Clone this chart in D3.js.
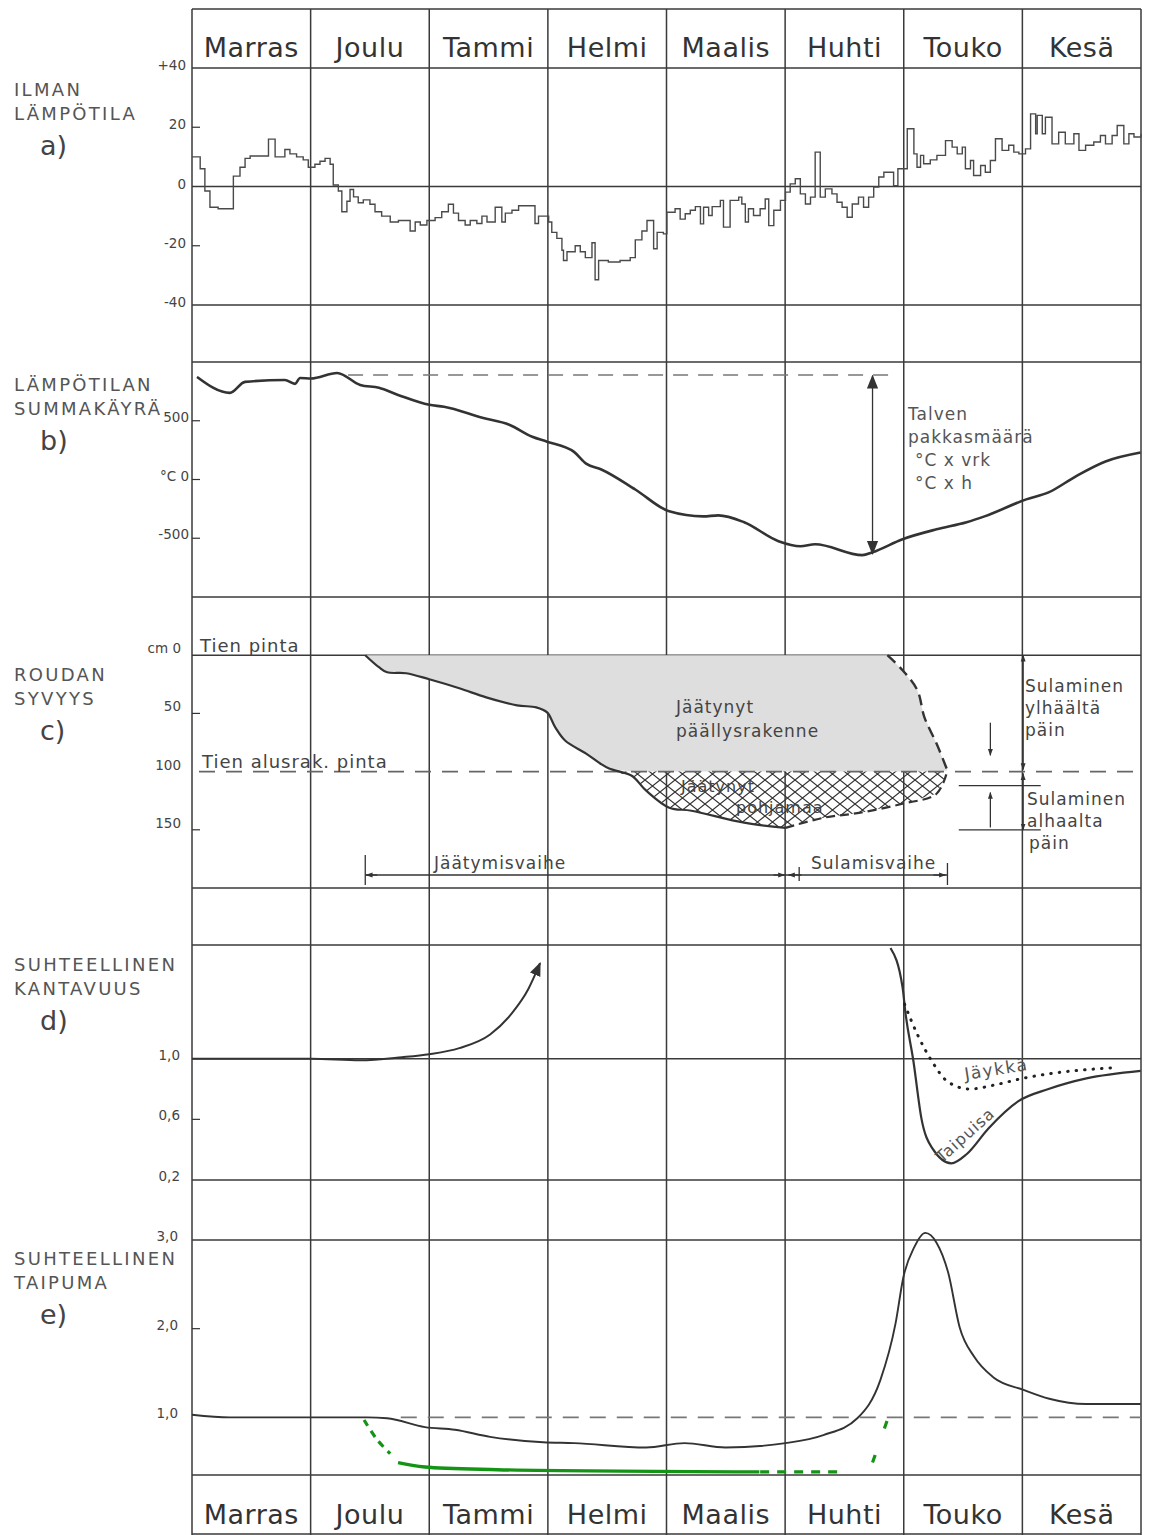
<!DOCTYPE html>
<html>
<head>
<meta charset="utf-8">
<script src="https://cdn.jsdelivr.net/npm/d3@7"></script>
<style>
  body { margin: 0; background: #fff; }
  text { font-family: "DejaVu Sans", sans-serif; fill: #3c3c3c; }
</style>
</head>
<body>
<script>
/* ---------- data (x = days from 1 Nov) ---------- */
const months = ['Marras', 'Joulu', 'Tammi', 'Helmi', 'Maalis', 'Huhti', 'Touko', 'Kesä'];
const DAYS = 243.2;

// a) air temperature, daily steps [day, °C]
const airTemp = [[0,10],[2.1,6],[3.3,-1.5],[4.6,-7],[6.7,-7.5],[10.6,3.5],[12.3,6.5],[13.6,9.5],[14.9,10.3],
  [19.6,16],[21.3,10],[23.8,12.5],[25.1,11],[26.8,10],[28.5,9],[29.8,6.5],[31.5,7.5],[32.8,8.5],[34.1,9.5],
  [35.4,7.5],[36.2,0.5],[37.5,-1.5],[38.4,-8.5],[39.7,-5],[40.5,-1],[41.4,-3.5],[42.6,-5.5],[43.9,-4.5],
  [45.6,-6],[46.9,-8.5],[48.6,-10],[50.8,-12],[52.9,-11.5],[55.9,-15],[57.2,-12],[58.5,-13],[60.2,-11.5],
  [62.3,-10.5],[64,-8.5],[65.7,-6],[67,-9],[68.3,-11.5],[70,-13],[71.3,-11.5],[73,-12.5],[74.3,-10],
  [75.6,-12],[77.7,-7],[79.4,-12],[80.3,-9],[82,-8],[83.7,-6.5],[87.9,-12.5],[88.8,-10],[91.4,-12],
  [92.2,-15.5],[93.5,-17.5],[94.8,-21.5],[95.2,-25],[96.1,-22],[98.2,-20],[99.5,-22],[100.8,-24],
  [102.5,-19],[103.3,-31.5],[104.2,-25],[106.7,-25.5],[109.7,-25],[112.3,-24],[113.6,-18],[115.3,-15],
  [116.6,-11.5],[118.3,-21],[119.2,-15.5],[120.8,-16],[121.7,-8.7],[123.8,-7.5],[125.1,-11],[126.4,-9.2],
  [127.7,-8],[129,-6.8],[130.3,-12.6],[131.1,-7],[132.4,-9.8],[133.3,-6.8],[135.4,-4.7],[136.2,-13.7],
  [137.9,-4.7],[140.1,-3.6],[140.9,-5.9],[141.8,-12],[142.6,-7.5],[143.9,-9.8],[145.6,-7.5],[146.9,-4.2],
  [147.8,-13.2],[149.1,-8],[150.8,-4.7],[152.1,-1.9],[153.3,0.9],[154.6,2.6],[155.9,-2.5],[157.2,-5.9],
  [158.5,-3.6],[159.7,11.6],[161,-3.6],[162.3,-0.8],[164,-2.5],[165.3,-5.3],[166.6,-7],[167.9,-10.4],
  [169.2,-5.9],[170.8,-3.6],[172.1,-7],[173.4,-3.6],[174.7,-0.2],[176,3.2],[177.3,4.8],[179.8,0.3],
  [180.9,6],[183.3,19.5],[185,11],[185.8,6.5],[186.7,10.5],[187.5,7.7],[189.2,9],[190.9,10.5],[193.1,15.5],
  [194.8,13.3],[196.1,11],[197.4,13.3],[198.2,6],[199.5,8.8],[200.3,3.7],[202.1,7.1],[203.3,4.8],
  [204.6,8.8],[205.9,16.1],[207.6,12.2],[209.3,13.9],[210.6,11.6],[211.9,11],[213.6,12.7],[214.9,24.5],
  [216.2,17.8],[216.6,24],[217.9,17.8],[218.7,23.4],[220.4,14.4],[222.1,18.3],[223.8,14.4],[226,17.8],
  [227.3,12.2],[229,13.9],[231.1,15],[232.8,17.2],[234.1,14.4],[235.8,17.2],[237.1,20.6],[238.8,14.4],
  [240.1,17.8],[241.4,16.7],[243.2,17.8]];

// b) cumulative temperature sum [day, °C x vrk]
const tempSum = [[1.3,873],[9.7,737],[13.6,831],[23.8,847],[26.4,814],[27.7,864],[30.5,860],[37.2,907],
  [43.1,805],[47.9,780],[52.8,720],[60.8,636],[64.6,619],[74.4,525],[81.3,466],[87.2,364],[91,322],
  [97.9,235],[101,135],[104.9,85],[113.6,-85],[122.3,-271],[131,-314],[134.9,-305],[141.5,-364],
  [150.3,-525],[155.9,-568],[159.7,-551],[171.8,-644],[174.4,-619],[182.1,-508],[190.8,-424],
  [198.5,-364],[203.1,-314],[213.8,-169],[219.5,-110],[226.4,25],[234.1,153],[243.1,229]];
const sumPeak = 890, sumMin = -640, frostDay = 174.4;

// c) frost depth [day, cm]
const frostFront = [[44.4,0],[47.9,10.3],[50,14.7],[54.9,15.5],[60.8,20.7],[68.5,28.4],[75.4,36.2],
  [83.3,43.1],[88.2,44.8],[91,49.1],[93.1,62],[95.6,73.3],[101,84.5],[104.6,93],[106.9,97.4],[112.6,103.4],
  [116.4,116.4],[122.3,131],[128,133.6],[141.5,143.9],[152.1,148.3]];
const thawBottom = [[152.1,148.3],[161.8,139.7],[171.3,135.3],[182.1,127.6],[190.8,119],[193.6,99.1]];
const thawTop = [[178.2,0],[182.1,12.9],[185.9,30.2],[187.7,53.4],[190.8,75.9],[193.6,99.1]];
const baseDepth = 100;
const phaseDays = [44.4, 152.1, 193.6];

// d) relative bearing capacity
const bearingWinter = [[0,1.0],[30.5,1.0],[43.1,0.99],[53.8,1.01],[60.8,1.03],[68.5,1.07],[76.4,1.16],
  [82.3,1.31],[86.2,1.46],[89.2,1.63]];
const bearingFlexible = [[179,1.73],[182.1,1.47],[182.8,1.31],[184.9,0.98],[186.9,0.61],[189.7,0.41],
  [194.6,0.31],[198.5,0.37],[204.1,0.54],[211.8,0.72],[219.5,0.8],[229.2,0.87],[243.1,0.92]];
const bearingRigid = [[182.6,1.36],[185.9,1.16],[189.7,0.98],[193.6,0.85],[199.2,0.8],[206.2,0.83],
  [212.8,0.87],[219.5,0.9],[235.9,0.94]];

// e) relative deflection
const deflection = [[0,1.03],[9.7,1.0],[29.2,1.0],[44.9,1.0],[50,0.99],[59.7,0.89],[67.4,0.86],[76.4,0.78],
  [90,0.72],[97.9,0.71],[116.4,0.66],[126.2,0.71],[136.7,0.66],[152.1,0.71],[161.8,0.8],[170.5,0.99],
  [176.4,1.42],[180.3,2.06],[182.3,2.58],[185.1,2.92],[187.9,3.08],[190.8,2.97],[193.8,2.63],[196.7,2.02],
  [200.5,1.68],[205.4,1.45],[213.1,1.31],[219.7,1.21],[229.2,1.15],[243.1,1.15]];
const greenDropDash = [[44.1,0.97],[47.4,0.75],[50.8,0.59]];
const greenSolid = [[52.8,0.49],[59.7,0.44],[78.3,0.41],[145.4,0.385]];
const greenFlatDash = [[145.6,0.385],[165.6,0.385]];
const greenRiseDash = [[174.4,0.49],[178.2,0.97]];

// axis ticks
const aTicks = [40, 20, 0, -20, -40], aLabels = ['+40', '20', '0', '-20', '-40'];
const bTicks = [500, 0, -500], bLabels = ['500', '°C 0', '-500'];
const cTicks = [0, 50, 100, 150], cLabels = ['cm  0', '50', '100', '150'];
const dTicks = [1.0, 0.6, 0.2], dLabels = ['1,0', '0,6', '0,2'];
const eTicks = [3.0, 2.0, 1.0], eLabels = ['3,0', '2,0', '1,0'];

const titles = [['ILMAN', 'LÄMPÖTILA'], ['LÄMPÖTILAN', 'SUMMAKÄYRÄ'], ['ROUDAN', 'SYVYYS'],
  ['SUHTEELLINEN', 'KANTAVUUS'], ['SUHTEELLINEN', 'TAIPUMA']];
const letters = ['a)', 'b)', 'c)', 'd)', 'e)'];

/* ---------- svg + scales ---------- */
const width = 1149, height = 1535;
const svg = d3.select('body').append('svg')
  .attr('width', width)
  .attr('height', height);

const x = d3.scaleLinear().domain([0, DAYS]).range([192, 1141]);
const xm = d3.scaleBand().domain(months).range([192, 1141]);

const yA = d3.scaleLinear().domain([-40, 40]).range([305, 68]);
const yB = d3.scaleLinear().domain([-1000, 1000]).range([597, 362]);
const yC = d3.scaleLinear().domain([-50, 200]).range([597, 888]);
const yD = d3.scaleLinear().domain([0.2, 1.75]).range([1180, 945]);
const yE = d3.scaleLinear().domain([0.35, 3.0]).range([1475, 1240]);

const ink = '#333';

// markers
const defs = svg.append('defs');
defs.append('marker')
  .attr('id', 'arrow')
  .attr('viewBox', '0 0 10 10')
  .attr('refX', 9).attr('refY', 5)
  .attr('markerWidth', 7).attr('markerHeight', 7)
  .attr('markerUnits', 'userSpaceOnUse')
  .attr('orient', 'auto-start-reverse')
  .append('path').attr('d', 'M0,1.5L10,5L0,8.5Z').attr('fill', ink);
defs.append('marker')
  .attr('id', 'arrowBig')
  .attr('viewBox', '0 0 10 10')
  .attr('refX', 9).attr('refY', 5)
  .attr('markerWidth', 14).attr('markerHeight', 14)
  .attr('markerUnits', 'userSpaceOnUse')
  .attr('orient', 'auto-start-reverse')
  .append('path').attr('d', 'M0,1L10,5L0,9Z').attr('fill', ink);

const hatch = defs.append('pattern')
  .attr('id', 'hatch')
  .attr('patternUnits', 'userSpaceOnUse')
  .attr('width', 15).attr('height', 12);
hatch.append('path').attr('d', 'M0,0L15,12M0,12L15,0')
  .attr('stroke', ink).attr('stroke-width', 1.2);

/* ---------- grid ---------- */
const grid = svg.append('g').attr('class', 'grid')
  .attr('stroke', '#3a3a3a').attr('stroke-width', 1.5);

const hLines = [9, yA(40), yA(0), yA(-40), yB(1000), yB(-1000), yC(0), yC(200),
  yD(1.75), yD(1.0), yD(0.2), yE(3.0), yE(0.35), 1534];
grid.selectAll('line.h').data(hLines).enter().append('line')
  .attr('class', 'h')
  .attr('x1', 192).attr('x2', 1141)
  .attr('y1', d => d).attr('y2', d => d);

const vLines = months.map(m => xm(m)).concat([xm.range()[1]]);
grid.selectAll('line.v').data(vLines).enter().append('line')
  .attr('class', 'v')
  .attr('x1', d => d).attr('x2', d => d)
  .attr('y1', 9).attr('y2', 1535);

// month headers top and bottom
[57, 1524].forEach(yb => {
  svg.append('g').selectAll('text').data(months).enter().append('text')
    .attr('x', d => xm(d) + xm.bandwidth() / 2)
    .attr('y', yb)
    .attr('text-anchor', 'middle')
    .style('font-size', '27px')
    .style('letter-spacing', '0.5px')
    .style('fill', '#333')
    .text(d => d);
});

/* ---------- panel titles ---------- */
const titleY = [96, 391, 681, 971, 1265];
titles.forEach((t, i) => {
  const g = svg.append('g').attr('transform', `translate(14, ${titleY[i]})`);
  t.forEach((line, j) => g.append('text')
    .attr('y', j * 23.5)
    .style('font-size', '18px')
    .style('letter-spacing', '2.3px')
    .style('fill', '#555')
    .text(line));
  g.append('text')
    .attr('x', 26).attr('y', 59)
    .style('font-size', '27px')
    .style('fill', '#444')
    .text(letters[i]);
});

/* ---------- tick labels and tick marks ---------- */
function ticks(scale, values, labels, xEnd, dy, marks) {
  const g = svg.append('g').attr('class', 'ticks');
  g.selectAll('text').data(values).enter().append('text')
    .attr('x', xEnd)
    .attr('y', d => scale(d) + dy)
    .attr('text-anchor', 'end')
    .style('font-size', '13.5px')
    .style('fill', '#444')
    .text((d, i) => labels[i]);
  g.selectAll('line').data(marks).enter().append('line')
    .attr('x1', 192).attr('x2', 200)
    .attr('y1', d => scale(d)).attr('y2', d => scale(d))
    .attr('stroke', ink).attr('stroke-width', 1.2);
}
ticks(yA, aTicks, aLabels, 186, 2, [20, -20]);
ticks(yB, bTicks, bLabels, 189, 1, bTicks);
ticks(yC, cTicks, cLabels, 181, -2, [50, 150]);
ticks(yD, dTicks, dLabels, 180, 1, [0.6]);
ticks(yE, eTicks, eLabels, 178, 1, [2.0]);

/* ---------- a) air temperature ---------- */
const lineA = d3.line().curve(d3.curveStepAfter)
  .x(d => x(d[0])).y(d => yA(d[1]));
svg.append('path')
  .datum(airTemp)
  .attr('d', lineA)
  .attr('fill', 'none')
  .attr('stroke', '#4a4a4a')
  .attr('stroke-width', 1.4);

/* ---------- b) temperature sum ---------- */
svg.append('path')
  .datum(tempSum)
  .attr('d', d3.line().curve(d3.curveMonotoneX).x(d => x(d[0])).y(d => yB(d[1])))
  .attr('fill', 'none').attr('stroke', ink).attr('stroke-width', 2.6);

svg.append('line')
  .attr('x1', x(40)).attr('x2', x(179))
  .attr('y1', yB(sumPeak)).attr('y2', yB(sumPeak))
  .attr('stroke', '#777').attr('stroke-width', 1.6)
  .attr('stroke-dasharray', '15,10');

svg.append('line')
  .attr('x1', x(frostDay)).attr('x2', x(frostDay))
  .attr('y1', yB(sumPeak) + 1).attr('y2', yB(sumMin) - 1)
  .attr('stroke', ink).attr('stroke-width', 1.3)
  .attr('marker-start', 'url(#arrowBig)')
  .attr('marker-end', 'url(#arrowBig)');

const talven = ['Talven', 'pakkasmäärä', '°C  x  vrk', '°C  x  h'];
svg.append('g').selectAll('text').data(talven).enter().append('text')
  .attr('x', (d, i) => i < 2 ? 908 : 915)
  .attr('y', (d, i) => 420 + i * 23)
  .style('font-size', '17px')
  .style('letter-spacing', '1px')
  .style('fill', '#555')
  .text(d => d);

/* ---------- c) frost depth ---------- */
const lineC = d3.line().x(d => x(d[0])).y(d => yC(d[1]));
const lineCs = d3.line().curve(d3.curveCatmullRom).x(d => x(d[0])).y(d => yC(d[1]));

// frozen pavement (grey)
const lower = frostFront.concat(thawBottom.slice(1));
const greyPoly = lower.map(d => [d[0], Math.min(d[1], baseDepth)])
  .concat(thawTop.slice().reverse());
svg.append('path')
  .attr('d', lineC(greyPoly) + 'Z')
  .attr('fill', '#dedede')
  .attr('stroke', 'none');

// frozen subgrade (cross hatch)
svg.append('path')
  .datum(lower)
  .attr('d', d3.area().x(d => x(d[0])).y0(yC(baseDepth)).y1(d => yC(Math.max(d[1], baseDepth))))
  .attr('fill', 'url(#hatch)');

// road surface and subgrade lines
svg.append('line')
  .attr('x1', 199).attr('x2', 1141)
  .attr('y1', yC(baseDepth)).attr('y2', yC(baseDepth))
  .attr('stroke', '#666').attr('stroke-width', 1.6)
  .attr('stroke-dasharray', '16,11');

svg.append('path').datum(frostFront).attr('d', lineCs)
  .attr('fill', 'none').attr('stroke', ink).attr('stroke-width', 2.2);
svg.append('path').datum(thawBottom).attr('d', lineCs)
  .attr('fill', 'none').attr('stroke', ink).attr('stroke-width', 2.2)
  .attr('stroke-dasharray', '9,5');
svg.append('path').datum(thawTop).attr('d', lineCs)
  .attr('fill', 'none').attr('stroke', ink).attr('stroke-width', 2.4)
  .attr('stroke-dasharray', '11,6');

const cTexts = [
  {t: 'Tien pinta', x: 200, y: yC(0) - 3, s: 18},
  {t: 'Tien alusrak. pinta', x: 202, y: yC(100) - 4, s: 18},
  {t: 'Jäätynyt', x: 676, y: 713, s: 17},
  {t: 'päällysrakenne', x: 676, y: 737, s: 17},
  {t: 'Jäätynyt', x: 681, y: 792, s: 16},
  {t: 'pohjamaa', x: 736, y: 813, s: 16},
  {t: 'Sulaminen', x: 1025, y: 692, s: 17},
  {t: 'ylhäältä', x: 1025, y: 714, s: 17},
  {t: 'päin', x: 1025, y: 736, s: 17},
  {t: 'Sulaminen', x: 1027, y: 805, s: 17},
  {t: 'alhaalta', x: 1027, y: 827, s: 17},
  {t: 'päin', x: 1029, y: 849, s: 17},
  {t: 'Jäätymisvaihe', x: 434, y: 869, s: 17},
  {t: 'Sulamisvaihe', x: 811, y: 869, s: 17}
];
svg.append('g').selectAll('text').data(cTexts).enter().append('text')
  .attr('x', d => d.x).attr('y', d => d.y)
  .style('font-size', d => d.s + 'px')
  .style('letter-spacing', '1px')
  .style('fill', '#444')
  .text(d => d.t);

// melting arrows on the right
const ann = svg.append('g').attr('stroke', ink).attr('stroke-width', 1.3).attr('fill', 'none');
const xr = x(213);
ann.append('line').attr('x1', xr).attr('x2', xr).attr('y1', yC(baseDepth) - 2).attr('y2', yC(0))
  .attr('marker-start', 'url(#arrow)').attr('marker-end', 'url(#arrow)');
ann.append('line').attr('x1', xr).attr('x2', xr).attr('y1', yC(baseDepth) + 2).attr('y2', yC(150))
  .attr('marker-start', 'url(#arrow)').attr('marker-end', 'url(#arrow)');
[yC(112), yC(150)].forEach(yy => ann.append('line')
  .attr('x1', x(196.5)).attr('x2', x(217.5)).attr('y1', yy).attr('y2', yy));
ann.append('line').attr('x1', x(204.6)).attr('x2', x(204.6)).attr('y1', yC(58)).attr('y2', yC(86))
  .attr('marker-end', 'url(#arrow)');
ann.append('line').attr('x1', x(204.6)).attr('x2', x(204.6)).attr('y1', yC(148)).attr('y2', yC(118))
  .attr('marker-end', 'url(#arrow)');

// phase arrows
const yPhase = 875;
ann.append('line').attr('x1', x(phaseDays[0])).attr('x2', x(phaseDays[2]))
  .attr('y1', yPhase).attr('y2', yPhase);
ann.append('line').attr('x1', x(phaseDays[0]) + 12).attr('x2', x(phaseDays[0]) + 1)
  .attr('y1', yPhase).attr('y2', yPhase).attr('marker-end', 'url(#arrow)');
ann.append('line').attr('x1', x(phaseDays[1]) - 12).attr('x2', x(phaseDays[1]) - 1)
  .attr('y1', yPhase).attr('y2', yPhase).attr('marker-end', 'url(#arrow)');
ann.append('line').attr('x1', x(phaseDays[1]) + 16).attr('x2', x(phaseDays[1]) + 3)
  .attr('y1', yPhase).attr('y2', yPhase).attr('marker-end', 'url(#arrow)');
ann.append('line').attr('x1', x(phaseDays[2]) - 14).attr('x2', x(phaseDays[2]) - 2)
  .attr('y1', yPhase).attr('y2', yPhase).attr('marker-end', 'url(#arrow)');
[[phaseDays[0], -20, 10], [phaseDays[1] + 3.5, -8, 6], [phaseDays[2], -12, 10]].forEach(t =>
  ann.append('line').attr('x1', x(t[0])).attr('x2', x(t[0]))
    .attr('y1', yPhase + t[1]).attr('y2', yPhase + t[2]));

/* ---------- d) relative bearing capacity ---------- */
const lineD = d3.line().curve(d3.curveMonotoneX).x(d => x(d[0])).y(d => yD(d[1]));
svg.append('path').datum(bearingWinter).attr('d', lineD)
  .attr('fill', 'none').attr('stroke', ink).attr('stroke-width', 2)
  .attr('marker-end', 'url(#arrowBig)');
svg.append('path').datum(bearingFlexible).attr('d', lineD)
  .attr('fill', 'none').attr('stroke', ink).attr('stroke-width', 2.2);
svg.append('path').datum(bearingRigid).attr('d', lineD)
  .attr('fill', 'none').attr('stroke', '#222').attr('stroke-width', 3)
  .attr('stroke-linecap', 'round')
  .attr('stroke-dasharray', '0.5,8');

svg.append('text')
  .attr('transform', `translate(${x(198.2)}, ${yD(0.86)}) rotate(-9)`)
  .style('font-size', '17px').style('letter-spacing', '1.5px').style('fill', '#555')
  .text('Jäykkä');
svg.append('text')
  .attr('transform', `translate(${x(192.2)}, ${yD(0.31)}) rotate(-42)`)
  .style('font-size', '16px').style('letter-spacing', '1px').style('fill', '#555')
  .text('Taipuisa');

/* ---------- e) relative deflection ---------- */
const lineE = d3.line().curve(d3.curveMonotoneX).x(d => x(d[0])).y(d => yE(d[1]));
svg.append('line')
  .attr('x1', x(53.5)).attr('x2', 1141)
  .attr('y1', yE(1.0)).attr('y2', yE(1.0))
  .attr('stroke', '#777').attr('stroke-width', 1.6)
  .attr('stroke-dasharray', '16,11');
svg.append('path').datum(deflection).attr('d', lineE)
  .attr('fill', 'none').attr('stroke', ink).attr('stroke-width', 1.9);

const green = '#149414';
const lineG = d3.line().curve(d3.curveCatmullRom).x(d => x(d[0])).y(d => yE(d[1]));
svg.append('path').datum(greenDropDash).attr('d', lineG)
  .attr('fill', 'none').attr('stroke', green).attr('stroke-width', 3.2)
  .attr('stroke-dasharray', '7,6');
svg.append('path').datum(greenSolid).attr('d', lineG)
  .attr('fill', 'none').attr('stroke', green).attr('stroke-width', 3.4);
svg.append('path').datum(greenFlatDash).attr('d', lineG)
  .attr('fill', 'none').attr('stroke', green).attr('stroke-width', 3.2)
  .attr('stroke-dasharray', '9,8');
svg.append('path').datum(greenRiseDash).attr('d', lineG)
  .attr('fill', 'none').attr('stroke', green).attr('stroke-width', 3.2)
  .attr('stroke-dasharray', '8,28');
</script>
</body>
</html>
